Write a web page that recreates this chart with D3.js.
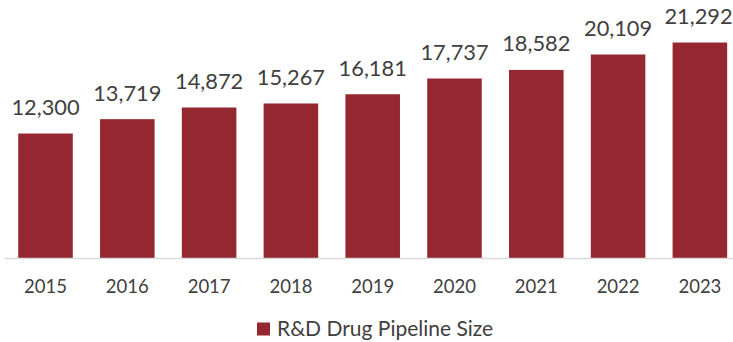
<!DOCTYPE html>
<html><head><meta charset="utf-8">
<script src="https://cdn.jsdelivr.net/npm/d3@7"></script>
<style>html,body{margin:0;padding:0;background:#fff;} svg{display:block;}</style>
</head><body>
<script>
const years = ["2015","2016","2017","2018","2019","2020","2021","2022","2023"];
const pipelineSize = [12300,13719,14872,15267,16181,17737,18582,20109,21292];
const seriesName = "R&D Drug Pipeline Size";

const W = 733, H = 342;
const FONT = "Lato, 'Open Sans', sans-serif";
const barColor = "#952730";
const textColor = "#404040";

const svg = d3.select("body").append("svg").attr("width", W).attr("height", H);

const x = d3.scaleBand().domain(years).range([4.6, 740.8]).paddingInner(0.333).paddingOuter(0.1667);
const y = d3.scaleLinear().domain([0, 25000]).range([258, 5]);

svg.append("g").selectAll("rect").data(years).join("rect")
  .attr("x", d => x(d))
  .attr("width", x.bandwidth())
  .attr("y", (d,i) => y(pipelineSize[i]))
  .attr("height", (d,i) => y(0) - y(pipelineSize[i]))
  .attr("fill", barColor);

// axis line
const xAxis = d3.axisBottom(x).tickSize(0).tickPadding(22);
const gx = svg.append("g").attr("transform", `translate(0,${y(0)})`).call(xAxis);
gx.select(".domain").attr("stroke", "#d9d9d9").attr("stroke-width", 1.5).attr("d", "M5,0.5H733");
gx.selectAll("text").attr("font-family", FONT).attr("font-size", 18.5).attr("fill", textColor);

// value labels
const fmt = d3.format(",");
svg.append("g").selectAll("text").data(years).join("text")
  .attr("x", (d,i) => Math.min(x(d) + x.bandwidth()/2, 698.5))
  .attr("y", (d,i) => y(pipelineSize[i]) - 18.5)
  .attr("text-anchor", "middle")
  .attr("font-family", FONT).attr("font-size", 21.8)
  .attr("fill", textColor)
  .text((d,i) => fmt(pipelineSize[i]));

// legend
const lg = svg.append("g");
lg.append("rect").attr("x", 257).attr("y", 322.5).attr("width", 13).attr("height", 13).attr("fill", barColor);
lg.append("text").attr("x", 277).attr("y", 335.5)
  .attr("font-family", FONT).attr("font-size", 21).attr("fill", textColor)
  .text(seriesName);
</script>
</body></html>
